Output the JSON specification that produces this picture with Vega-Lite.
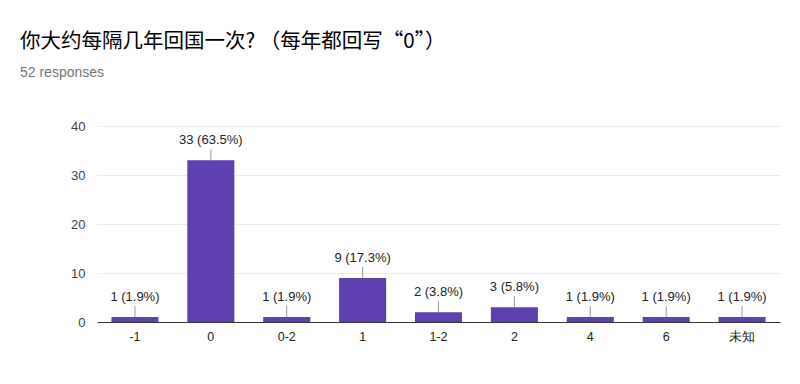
{
  "$schema": "https://vega.github.io/schema/vega-lite/v6.json",
  "autosize": {"type": "none"},
  "width": 683,
  "height": 196,
  "padding": {"left": 97, "top": 126, "right": 20, "bottom": 62},
  "background": "white",
  "title": {
    "text": "你大约每隔几年回国一次? （每年都回写“0”）",
    "subtitle": "52 responses",
    "anchor": "start",
    "frame": "group",
    "dx": -77,
    "offset": 40,
    "font": "Noto Sans CJK SC",
    "fontSize": 20.5,
    "fontWeight": "normal",
    "color": "#000000",
    "subtitleFont": "Liberation Sans",
    "subtitleFontSize": 14,
    "subtitleColor": "#757575",
    "subtitlePadding": 14
  },
  "data": {
    "values": [
      {"answer": "-1", "count": 1, "label": "1 (1.9%)"},
      {"answer": "0", "count": 33, "label": "33 (63.5%)"},
      {"answer": "0-2", "count": 1, "label": "1 (1.9%)"},
      {"answer": "1", "count": 9, "label": "9 (17.3%)"},
      {"answer": "1-2", "count": 2, "label": "2 (3.8%)"},
      {"answer": "2", "count": 3, "label": "3 (5.8%)"},
      {"answer": "4", "count": 1, "label": "1 (1.9%)"},
      {"answer": "6", "count": 1, "label": "1 (1.9%)"},
      {"answer": "未知", "count": 1, "label": "1 (1.9%)"}
    ]
  },
  "encoding": {
    "x": {
      "field": "answer",
      "type": "nominal",
      "sort": null,
      "scale": {"paddingInner": 0.38, "paddingOuter": 0.19},
      "axis": {
        "title": null,
        "labelAngle": 0,
        "labelFont": "Liberation Sans",
        "labelFontSize": 12.5,
        "labelColor": "#222222",
        "labelPadding": 8,
        "ticks": false,
        "domainColor": "#333333",
        "domainWidth": 1,
        "grid": false
      }
    },
    "y": {
      "field": "count",
      "type": "quantitative",
      "scale": {"domain": [0, 40]},
      "axis": {
        "title": null,
        "values": [0, 10, 20, 30, 40],
        "labelFont": "Liberation Sans",
        "labelFontSize": 13,
        "labelColor": "#444444",
        "labelPadding": 12,
        "ticks": false,
        "domain": false,
        "gridColor": "#ebebeb"
      }
    }
  },
  "layer": [
    {"mark": {"type": "bar", "color": "#5f40b1"}},
    {
      "mark": {"type": "rule", "color": "#999999", "strokeWidth": 1, "y2Offset": -11},
      "encoding": {"y2": {"field": "count"}}
    },
    {
      "mark": {"type": "text", "font": "Liberation Sans", "fontSize": 13, "color": "#222222", "baseline": "middle", "dy": -20},
      "encoding": {"text": {"field": "label"}}
    }
  ],
  "config": {"view": {"stroke": null}}
}
